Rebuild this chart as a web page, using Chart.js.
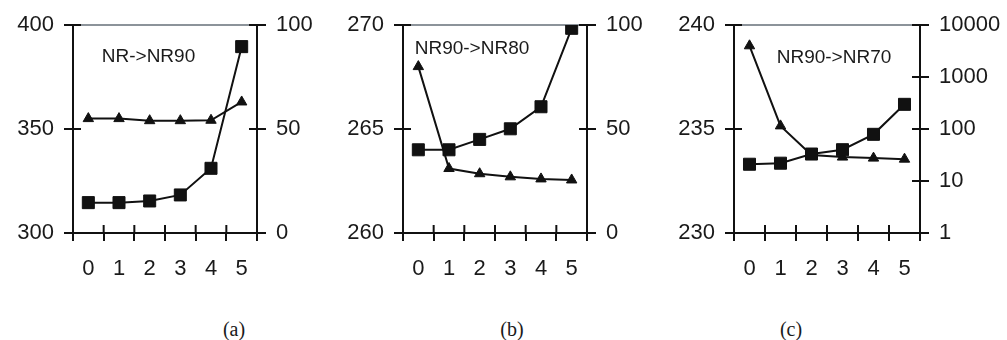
<!DOCTYPE html>
<html><head><meta charset="utf-8">
<script src="https://cdn.jsdelivr.net/npm/chart.js@4/dist/chart.umd.min.js"></script>
<style>
html,body{margin:0;padding:0;background:#fff;}
body{width:1007px;height:340px;overflow:hidden;position:relative;}
canvas{position:absolute;top:0;}
.cap{position:absolute;top:318px;font-family:"Liberation Serif","Times New Roman",serif;font-size:20px;color:#1a1a1a;transform:translateX(-50%);white-space:nowrap;}
</style></head><body>
<canvas id="ca" width="335" height="295" style="left:0px"></canvas>
<canvas id="cb" width="330" height="295" style="left:335px"></canvas>
<canvas id="cc" width="342" height="295" style="left:665px"></canvas>
<div class="cap" style="left:234px">(a)</div>
<div class="cap" style="left:512px">(b)</div>
<div class="cap" style="left:791px">(c)</div>
<script>
// ---- data ----
const xLabels = ['0', '1', '2', '3', '4', '5'];
const titles = ['NR->NR90', 'NR90->NR80', 'NR90->NR70'];
// triangles (left axis)
const triA = [355, 355, 354, 354, 354.2, 363];
const triB = [268.0, 263.1, 262.85, 262.7, 262.6, 262.55];
const triC = [239.0, 235.15, 233.75, 233.65, 233.6, 233.55];
// squares (right axis)
const sqA = [14.6, 14.6, 15.4, 18.3, 31.1, 89.6];
const sqB = [40, 40, 45, 50.1, 60.7, 98.4];
const sqC = [21, 22, 33, 40, 79, 298];
// axis ranges / ticks
const leftA = [300, 350, 400];
const leftB = [260, 265, 270];
const leftC = [230, 235, 240];
const rightLin = [0, 50, 100];
const rightLog = [1, 10, 100, 1000, 10000];

const FONT = '"Liberation Sans", Arial, Helvetica, sans-serif';
const INK = '#111';
const TXT = '#1a1a1a';

const crossTicks = {
  id: 'crossTicks',
  afterDraw(chart, args, opts) {
    const {ctx, chartArea: a, scales} = chart;
    const L = 8;
    ctx.save();
    ctx.strokeStyle = INK; ctx.lineWidth = 2;
    const seg = (x1, y1, x2, y2) => { ctx.beginPath(); ctx.moveTo(x1, y1); ctx.lineTo(x2, y2); ctx.stroke(); };
    const yl = scales.yL, yr = scales.yR, x = scales.x;
    yl.ticks.forEach((t, i) => { const y = yl.getPixelForTick(i); seg(a.left, y, a.left + L, y); });
    yr.ticks.forEach((t, i) => { const y = yr.getPixelForTick(i); seg(a.right - L, y, a.right, y); });
    const n = x.ticks.length;
    const w = x.getPixelForTick(1) - x.getPixelForTick(0);
    for (let i = 0; i <= n; i++) {
      const px = x.getPixelForTick(0) - w / 2 + i * w;
      seg(px, a.bottom - L, px, a.bottom);
    }
    ctx.fillStyle = TXT;
    ctx.font = '19px ' + FONT;
    ctx.textAlign = 'center';
    ctx.textBaseline = 'alphabetic';
    ctx.fillText(opts.text, a.left + opts.dx, a.top + opts.dy);
    ctx.restore();
  }
};

function makeChart(id, tri, sq, leftTicks, rightTicks, logRight, leftW, rightW, title, dx, dy) {
  const lmin = leftTicks[0], lmax = leftTicks[leftTicks.length - 1];
  const rmin = rightTicks[0], rmax = rightTicks[rightTicks.length - 1];
  const tickFont = {family: FONT, size: 22};
  new Chart(document.getElementById(id), {
    type: 'line',
    data: {
      labels: xLabels,
      datasets: [
        {data: sq, yAxisID: 'yR', borderColor: INK, backgroundColor: INK, borderWidth: 2,
         pointStyle: 'rect', pointRadius: 8.5, pointBorderWidth: 1, pointBackgroundColor: INK, pointBorderColor: INK, tension: 0},
        {data: tri, yAxisID: 'yL', borderColor: INK, backgroundColor: INK, borderWidth: 2,
         pointStyle: 'triangle', pointRadius: 6, pointBorderWidth: 1, pointBackgroundColor: INK, pointBorderColor: INK, tension: 0}
      ]
    },
    options: {
      responsive: false, animation: false, events: [],
      layout: {padding: {top: 25, left: 0, right: 0, bottom: 0}},
      plugins: {legend: {display: false}, tooltip: {enabled: false}, title: {display: false},
        crossTicks: {text: title, dx: dx, dy: dy}},
      scales: {
        x: {
          type: 'category', offset: true,
          grid: {offset: true, drawOnChartArea: false, drawTicks: true, tickLength: 8, color: INK, lineWidth: 2},
          border: {display: true, color: INK, width: 2},
          ticks: {font: tickFont, color: TXT, padding: 15, maxRotation: 0},
          afterFit: s => { s.height = 295 - 233; }
        },
        yL: {
          type: 'linear', position: 'left', min: lmin, max: lmax,
          afterBuildTicks: s => { s.ticks = leftTicks.map(v => ({value: v})); },
          grid: {drawOnChartArea: true, tickLength: 9, tickColor: INK, tickWidth: 2,
            color: c => (c.tick && c.tick.value === lmax) ? '#8c939a' : 'rgba(0,0,0,0)', lineWidth: 2},
          border: {display: true, color: INK, width: 2},
          ticks: {font: tickFont, color: TXT, padding: 10, callback: v => String(v)},
          afterFit: s => { s.width = leftW; }
        },
        yR: {
          type: logRight ? 'logarithmic' : 'linear', position: 'right', min: rmin, max: rmax,
          afterBuildTicks: s => { s.ticks = rightTicks.map(v => ({value: v})); },
          grid: {drawOnChartArea: false, tickLength: 9, tickColor: INK, tickWidth: 2, color: INK, lineWidth: 2},
          border: {display: true, color: INK, width: 2},
          ticks: {font: tickFont, color: TXT, padding: 10, callback: v => String(v)},
          afterFit: s => { s.width = rightW; }
        }
      }
    },
    plugins: [crossTicks]
  });
}

makeChart('ca', triA, sqA, leftA, rightLin, false, 73, 78, titles[0], 75.5, 37);
makeChart('cb', triB, sqB, leftB, rightLin, false, 68, 78, titles[1], 69, 29);
makeChart('cc', triC, sqC, leftC, rightLog, true, 69, 87, titles[2], 100, 38);
</script>
</body></html>
